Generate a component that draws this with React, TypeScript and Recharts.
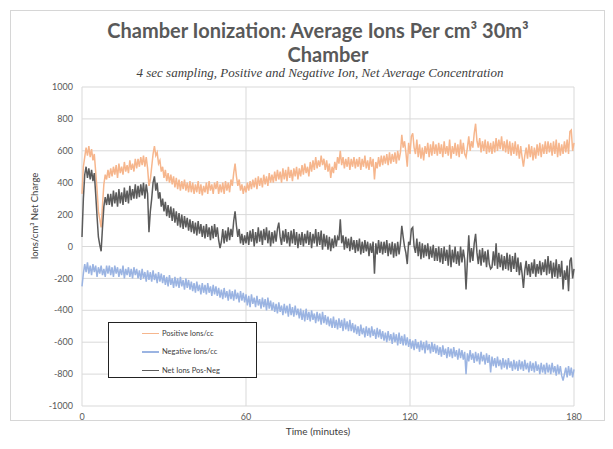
import React from 'react'
import {
  LineChart,
  Line,
  XAxis,
  YAxis,
  CartesianGrid,
} from 'recharts'

// one sample every half minute, 0 .. 180 min
const STEP_MIN = 0.5

const positiveIons = [
  330, 500, 560, 620, 570, 630, 560, 610, 540, 580, 470, 360, 220, 170, 120, 260, 390, 450, 420, 480,
  430, 490, 440, 500, 450, 510, 430, 520, 460, 500, 450, 530, 470, 510, 460, 540, 480, 520, 470, 550,
  490, 550, 500, 560, 510, 570, 500, 560, 490, 380, 420, 500, 580, 630, 570, 590, 520, 540, 470, 500,
  430, 480, 410, 460, 400, 450, 390, 440, 370, 430, 360, 420, 350, 410, 360, 420, 350, 400, 340, 410,
  340, 400, 330, 390, 340, 410, 330, 390, 320, 380, 340, 400, 330, 410, 350, 390, 330, 400, 360, 410,
  330, 390, 340, 400, 330, 410, 350, 400, 340, 420, 380, 460, 520, 440, 380, 420, 350, 390, 330, 380,
  340, 400, 350, 410, 360, 420, 370, 430, 360, 440, 380, 430, 370, 450, 390, 440, 380, 460, 400, 450,
  400, 470, 410, 480, 420, 470, 400, 490, 420, 480, 410, 500, 430, 480, 410, 490, 440, 500, 420, 490,
  440, 510, 450, 520, 460, 500, 440, 530, 470, 540, 480, 560, 490, 540, 500, 570, 510, 550, 480, 540,
  470, 520, 430, 500, 460, 530, 480, 560, 520, 600, 510, 560, 490, 550, 500, 560, 480, 550, 500, 560,
  490, 550, 500, 560, 480, 550, 500, 570, 490, 540, 480, 560, 500, 550, 420, 530, 490, 560, 500, 570,
  510, 570, 520, 580, 510, 590, 520, 580, 530, 590, 520, 600, 540, 590, 700, 620, 660, 590, 500, 650,
  580, 690, 710, 620, 580, 670, 560, 640, 550, 620, 540, 630, 580, 650, 560, 640, 570, 660, 580, 640,
  570, 650, 580, 640, 560, 660, 580, 630, 570, 670, 550, 630, 580, 650, 570, 640, 560, 670, 580, 650,
  580, 560, 620, 690, 600, 660, 620, 710, 770, 660, 620, 680, 590, 660, 600, 670, 580, 660, 590, 650,
  580, 660, 590, 680, 600, 670, 610, 690, 600, 660, 590, 670, 580, 660, 570, 650, 580, 660, 570, 640,
  550, 630, 560, 500, 570, 620, 550, 640, 560, 630, 540, 620, 550, 640, 570, 650, 560, 640, 580, 660,
  580, 660, 590, 650, 570, 660, 580, 670, 560, 650, 570, 640, 580, 660, 590, 670, 580, 720, 730, 600,
  650,
]

const negativeIons = [
  -250, -170, -110, -160, -100, -170, -120, -180, -110, -160, -120, -190, -130, -170, -120, -180, -140, -190, -120, -170,
  -120, -180, -130, -190, -120, -170, -130, -190, -140, -180, -120, -200, -140, -180, -130, -190, -140, -200, -130, -180,
  -140, -200, -150, -210, -140, -200, -160, -220, -150, -210, -160, -220, -150, -210, -170, -230, -160, -220, -170, -230,
  -180, -240, -190, -250, -180, -240, -200, -260, -190, -250, -200, -260, -190, -250, -210, -270, -200, -260, -210, -270,
  -220, -280, -230, -290, -220, -280, -240, -300, -230, -290, -240, -300, -230, -290, -250, -310, -240, -300, -250, -310,
  -260, -320, -270, -330, -260, -320, -280, -340, -270, -330, -280, -340, -270, -330, -290, -350, -280, -340, -290, -350,
  -300, -370, -310, -380, -300, -360, -320, -380, -310, -370, -330, -390, -320, -380, -330, -400, -320, -390, -340, -400,
  -350, -410, -360, -420, -350, -410, -370, -430, -360, -420, -370, -440, -360, -430, -380, -440, -370, -430, -390, -450,
  -390, -460, -400, -470, -390, -460, -410, -470, -400, -460, -420, -480, -410, -470, -420, -490, -410, -480, -430, -490,
  -440, -500, -450, -510, -440, -510, -460, -520, -450, -510, -460, -530, -450, -520, -470, -530, -460, -530, -480, -540,
  -490, -550, -500, -560, -490, -550, -510, -570, -500, -560, -510, -570, -500, -560, -520, -580, -510, -570, -520, -580,
  -530, -590, -540, -600, -530, -590, -550, -610, -540, -600, -550, -620, -540, -610, -560, -620, -550, -620, -570, -630,
  -580, -640, -590, -650, -580, -640, -600, -660, -590, -650, -600, -670, -590, -650, -610, -670, -600, -660, -610, -670,
  -620, -680, -630, -690, -620, -680, -640, -700, -630, -690, -640, -700, -630, -690, -650, -710, -640, -700, -650, -710,
  -660, -800, -670, -720, -650, -710, -670, -730, -660, -720, -670, -740, -660, -720, -680, -740, -670, -730, -680, -790,
  -690, -750, -700, -760, -690, -750, -710, -770, -700, -760, -710, -770, -700, -760, -720, -780, -710, -770, -720, -780,
  -710, -770, -720, -780, -710, -770, -730, -790, -720, -780, -730, -790, -720, -780, -740, -800, -730, -790, -740, -800,
  -730, -790, -740, -800, -730, -790, -750, -810, -740, -800, -750, -810, -840, -800, -760, -820, -750, -810, -760, -820,
  -770,
]

const netIons = [
  60, 300, 450, 500, 430, 490, 420, 480, 410, 460, 330, 190, 60, 10, -30, 120, 250, 310, 260, 330,
  260, 330, 250, 350, 270, 340, 250, 360, 270, 340, 260, 370, 280, 350, 270, 380, 290, 360, 300, 390,
  300, 380, 310, 390, 320, 400, 300, 390, 330, 90, 220, 300, 400, 440, 350, 400, 300, 340, 250, 300,
  220, 280, 190, 260, 180, 250, 160, 240, 150, 220, 130, 210, 120, 200, 110, 190, 120, 180, 100, 170,
  90, 160, 80, 150, 70, 160, 80, 140, 60, 130, 50, 140, 60, 120, 40, 130, 50, 140, 60, 120,
  40, -10, 30, 110, 20, 100, 30, 120, 40, 110, 60, 160, 220, 130, 60, 110, 20, 80, 10, 70,
  20, 90, 10, 100, 30, 110, 0, 90, 20, 120, 30, 100, 10, 110, 40, 120, 20, 100, 0, 90,
  20, 100, 30, 110, 150, 60, 10, 100, 30, 110, 20, 90, 0, 100, 20, 110, 10, 90, -10, 80,
  10, 90, 0, 80, 20, 100, 10, 90, -10, 80, 20, 110, 0, 90, 10, 100, -20, 80, 0, 70,
  -20, 60, -30, 50, -10, 70, 0, 60, 40, 170, 20, 70, -20, 60, -10, 50, -30, 60, -20, 40,
  -40, 40, -30, 50, -50, 30, -40, 40, -30, 30, -60, 20, -40, 30, -170, 20, -50, 40, -40, 30,
  -50, 30, -40, 40, -60, 20, -50, 30, -70, 20, -60, 30, -50, 20, 130, 60, 0, -40, -110, 30,
  10, 110, 120, 0, -40, 50, -60, 30, -80, 20, -70, 10, -60, 20, -80, 0, -70, 10, -90, -10,
  -90, 0, -100, -10, -110, 0, -90, -20, -120, 10, -130, -20, -100, 0, -110, -30, -120, 0, -100, -20,
  -80, -270, -90, 70, -100, -10, -90, 20, 80, -40, -110, -20, -120, -10, -100, -30, -130, -20, -110, -140,
  -130, -30, -120, 20, -140, -40, -130, -50, -150, -60, -140, -40, -150, -50, -160, -60, -140, -40, -160, -70,
  -180, -100, -170, -260, -150, -90, -180, -110, -190, -100, -170, -80, -190, -110, -170, -90, -180, -100, -160, -80,
  -180, -60, -170, -90, -200, -100, -190, -80, -200, -110, -190, -90, -270, -150, -210, -120, -280, -90, -70, -200,
  -140,
]

const xTicks = [0, 60, 120, 180]
const yTicks = [-1000, -800, -600, -400, -200, 0, 200, 400, 600, 800, 1000]

const seriesNames = ['Positive Ions/cc', 'Negative Ions/cc', 'Net Ions Pos-Neg']
const seriesColors = ['#F6B68D', '#9BB4E2', '#5B5B5B']

const chartData = positiveIons.map((pos, i) => ({
  t: i * STEP_MIN,
  pos,
  neg: negativeIons[i],
  net: netIons[i],
}))

const tickStyle = { fill: '#595959', fontSize: 9, fontFamily: 'Lato, sans-serif' }

function LegendBox() {
  return (
    <div
      style={{
        position: 'absolute',
        left: 108,
        top: 322,
        width: 149,
        height: 56,
        border: '1px solid #222',
        background: '#fff',
        boxSizing: 'border-box',
        paddingTop: 1,
      }}
    >
      {seriesNames.map((name, i) => (
        <div key={name} style={{ display: 'flex', alignItems: 'center', height: 18.5 }}>
          <div style={{ width: 17, height: 1.5, background: seriesColors[i], marginLeft: 33, marginRight: 3 }} />
          <span style={{ fontFamily: 'Lato, sans-serif', fontSize: 7.5, color: '#404040' }}>{name}</span>
        </div>
      ))}
    </div>
  )
}

export default function App() {
  return (
    <div style={{ position: 'relative', width: 613, height: 449, background: '#fff' }}>
      <style>{'body{margin:0}'}</style>
      {/* outer chart frame */}
      <div
        style={{
          position: 'absolute',
          left: 10,
          top: 10,
          width: 595,
          height: 411,
          border: '1px solid #D6D6D6',
          boxSizing: 'border-box',
        }}
      />

      <div
        style={{
          position: 'absolute',
          left: 0,
          width: 636,
          top: 20,
          textAlign: 'center',
          fontFamily: 'Lato, sans-serif',
          fontWeight: 700,
          fontSize: 20,
          lineHeight: '20px',
          color: '#595959',
          whiteSpace: 'nowrap',
        }}
      >
        Chamber Ionization: Average Ions Per cm³ 30m³
      </div>
      <div
        style={{
          position: 'absolute',
          left: 0,
          width: 656,
          top: 45,
          textAlign: 'center',
          fontFamily: 'Lato, sans-serif',
          fontWeight: 700,
          fontSize: 20,
          lineHeight: '18px',
          color: '#595959',
        }}
      >
        Chamber
      </div>
      <div
        style={{
          position: 'absolute',
          left: 0,
          width: 640,
          top: 66,
          textAlign: 'center',
          fontFamily: '"Liberation Serif", serif',
          fontStyle: 'italic',
          fontSize: 13,
          lineHeight: '13px',
          color: '#404040',
          whiteSpace: 'nowrap',
        }}
      >
        4 sec sampling, Positive and Negative Ion, Net Average Concentration
      </div>

      <div style={{ position: 'absolute', left: 0, top: 0 }}>
        <LineChart
          width={613}
          height={449}
          data={chartData}
          margin={{ top: 87, right: 39, bottom: 23, left: 42 }}
        >
          <CartesianGrid stroke="#D9D9D9" strokeWidth={1} />
          <XAxis
            dataKey="t"
            type="number"
            domain={[0, 180]}
            ticks={xTicks}
            axisLine={false}
            tickLine={false}
            tick={tickStyle}
            height={20}
            interval={0}
          />
          <YAxis
            type="number"
            domain={[-1000, 1000]}
            ticks={yTicks}
            axisLine={false}
            tickLine={false}
            tick={tickStyle}
            tickSize={7}
            width={40}
            interval={0}
          />
          <Line type="linear" dataKey="pos" name={seriesNames[0]} stroke={seriesColors[0]} strokeWidth={1.5} dot={false} isAnimationActive={false} />
          <Line type="linear" dataKey="neg" name={seriesNames[1]} stroke={seriesColors[1]} strokeWidth={1.5} dot={false} isAnimationActive={false} />
          <Line type="linear" dataKey="net" name={seriesNames[2]} stroke={seriesColors[2]} strokeWidth={1.5} dot={false} isAnimationActive={false} />
        </LineChart>
      </div>

      <LegendBox />

      <div
        style={{
          position: 'absolute',
          left: 34,
          top: 216,
          transform: 'translate(-50%, -50%) rotate(-90deg)',
          whiteSpace: 'nowrap',
          fontFamily: 'Lato, sans-serif',
          fontSize: 9.5,
          color: '#404040',
        }}
      >
        Ions/cm³ Net Charge
      </div>
      <div
        style={{
          position: 'absolute',
          left: 0,
          width: 636,
          top: 425,
          textAlign: 'center',
          fontFamily: 'Lato, sans-serif',
          fontSize: 10,
          color: '#404040',
        }}
      >
        Time (minutes)
      </div>
    </div>
  )
}
